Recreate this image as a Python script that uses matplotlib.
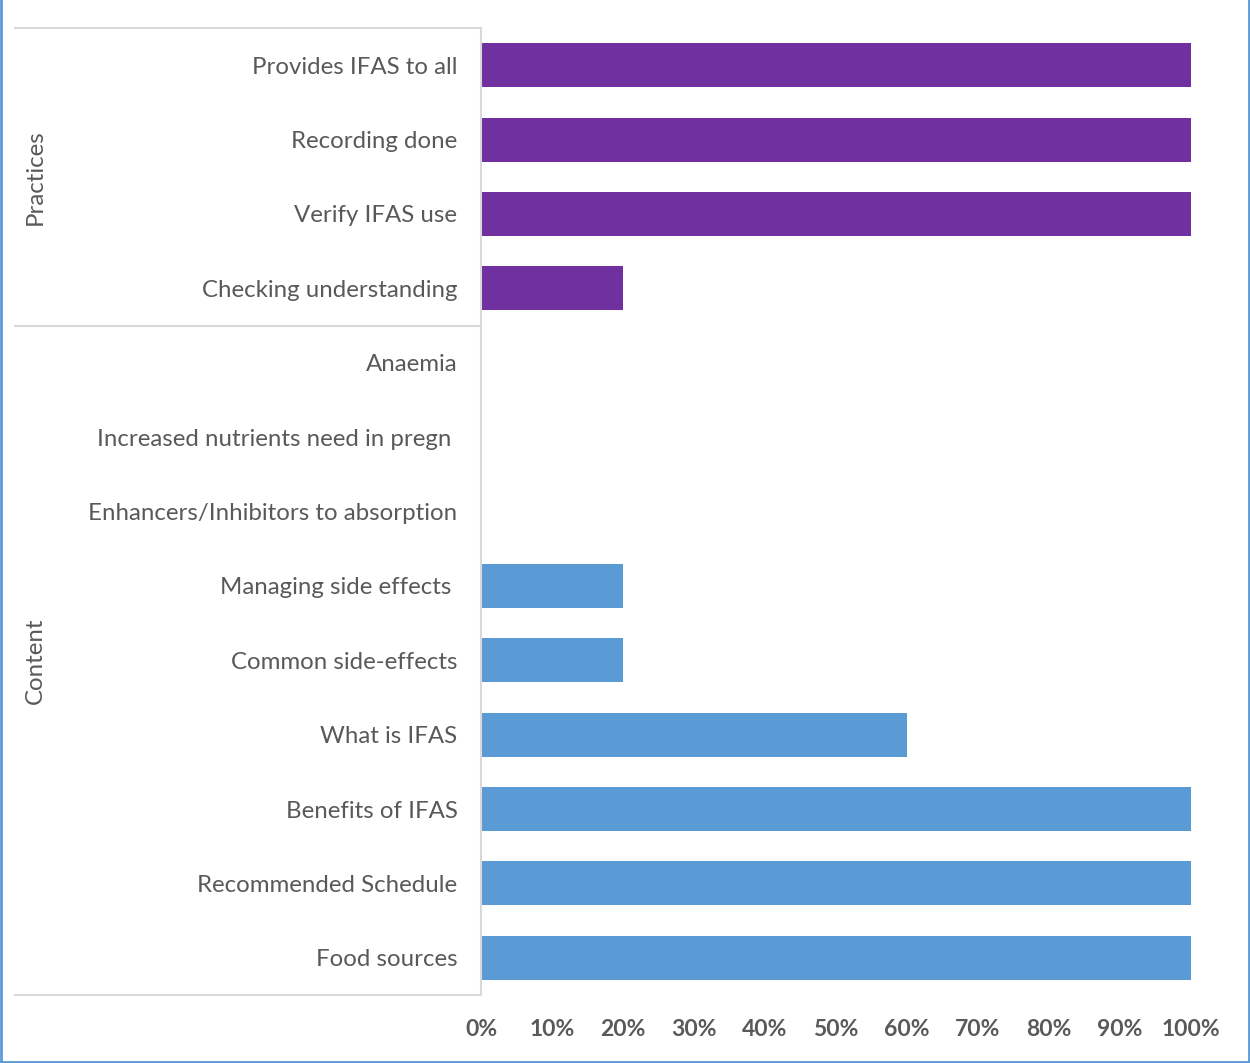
import matplotlib.pyplot as plt
from matplotlib.lines import Line2D
from matplotlib.transforms import blended_transform_factory

plt.rcParams['font.family'] = ['Lato', 'DejaVu Sans']

# 항목과 비율 (위에서 아래 순서)
practices = ['Provides IFAS to all', 'Recording done', 'Verify IFAS use',
             'Checking understanding']
practices_vals = [1.0, 1.0, 1.0, 0.2]
content = ['Anaemia', 'Increased nutrients need in pregn ',
           'Enhancers/Inhibitors to absorption', 'Managing side effects ',
           'Common side-effects', 'What is IFAS', 'Benefits of IFAS',
           'Recommended Schedule', 'Food sources']
content_vals = [0.0, 0.0, 0.0, 0.2, 0.2, 0.6, 1.0, 1.0, 1.0]
groups = ['Practices', 'Content']
xticks = [0, .1, .2, .3, .4, .5, .6, .7, .8, .9, 1.0]
xtick_labels = ['0%', '10%', '20%', '30%', '40%', '50%', '60%', '70%',
                '80%', '90%', '100%']

purple = '#7030A0'
blue = '#5B9BD5'
grey_txt = '#595959'
grey_line = '#D9D9D9'

fig = plt.figure(figsize=(12.5, 10.63), dpi=100)
W, H = 1250, 1063
ax = fig.add_axes([481 / W, 1 - 995 / H, (1191 - 481) / W, (995 - 28) / H])

labels = practices + content
n_p = len(practices)
y_p = list(range(n_p))
y_c = list(range(n_p, len(labels)))
ax.barh(y_p, practices_vals, height=0.59, color=purple)
ax.barh(y_c, content_vals, height=0.59, color=blue)

ax.set_ylim(len(labels) - 0.5, -0.5)
ax.set_xlim(0, 1)
ax.set_yticks(range(len(labels)))
ax.set_yticklabels(labels, fontsize=17.3, color=grey_txt)
ax.set_xticks(xticks)
ax.set_xticklabels(xtick_labels, fontsize=16.5, color=grey_txt, fontweight='bold')
ax.tick_params(axis='y', length=0, pad=17)
ax.tick_params(axis='x', length=0, pad=17)

for s in ['top', 'right', 'bottom']:
    ax.spines[s].set_visible(False)
ax.spines['left'].set_color(grey_line)
ax.spines['left'].set_linewidth(1.5)

# 그룹 구분선과 그룹 이름
tr = blended_transform_factory(fig.transFigure, ax.transData)
x0, x1 = 15 / W, 481 / W
for yb in [-0.5, n_p - 0.5, len(labels) - 0.5]:
    fig.add_artist(Line2D([x0, x1], [yb, yb], transform=tr,
                          color=grey_line, lw=1.5))
centers = [(y_p[0] + y_p[-1]) / 2, (y_c[0] + y_c[-1]) / 2]
for g, yc in zip(groups, centers):
    fig.text(35 / W, yc, g, transform=tr, rotation=90, ha='center',
             va='center', fontsize=17.3, color=grey_txt)

# 바깥 테두리 (왼쪽, 오른쪽, 아래)
border = '#5B9BD5'
fig.add_artist(Line2D([1.5 / W, 1.5 / W], [0, 1], color=border, lw=2))
fig.add_artist(Line2D([1 - 1.5 / W, 1 - 1.5 / W], [0, 1], color=border, lw=2))
fig.add_artist(Line2D([0, 1], [1.5 / H, 1.5 / H], color=border, lw=2))

fig.savefig('out.png', dpi=100, facecolor='white')
